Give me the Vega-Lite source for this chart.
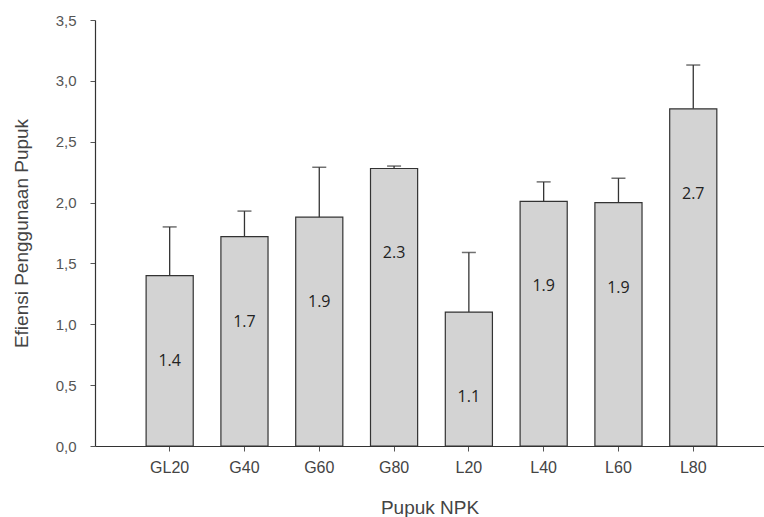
{
  "$schema": "https://vega.github.io/schema/vega-lite/v6.json",
  "autosize": "none",
  "width": 669,
  "height": 426,
  "padding": {"left": 95, "top": 20, "right": 0, "bottom": 71},
  "background": "white",
  "config": {
    "view": {"stroke": null},
    "font": "Liberation Sans"
  },
  "data": {
    "values": [
      {"perlakuan": "GL20", "nilai": 1.40, "atas": 1.80, "label": "1.4"},
      {"perlakuan": "G40", "nilai": 1.72, "atas": 1.93, "label": "1.7"},
      {"perlakuan": "G60", "nilai": 1.88, "atas": 2.29, "label": "1.9"},
      {"perlakuan": "G80", "nilai": 2.28, "atas": 2.30, "label": "2.3"},
      {"perlakuan": "L20", "nilai": 1.10, "atas": 1.59, "label": "1.1"},
      {"perlakuan": "L40", "nilai": 2.01, "atas": 2.17, "label": "1.9"},
      {"perlakuan": "L60", "nilai": 2.00, "atas": 2.20, "label": "1.9"},
      {"perlakuan": "L80", "nilai": 2.77, "atas": 3.13, "label": "2.7"}
    ]
  },
  "encoding": {
    "x": {
      "field": "perlakuan",
      "type": "nominal",
      "sort": null,
      "scale": {"paddingInner": 0.37, "paddingOuter": 0.657, "align": 0.52},
      "axis": {
        "title": "Pupuk NPK",
        "titleFont": "Liberation Sans",
        "titleFontSize": 19,
        "titleFontWeight": "normal",
        "titleColor": "#444",
        "titlePadding": 23,
        "labelAngle": 0,
        "labelFont": "Liberation Sans",
        "labelFontSize": 16,
        "labelColor": "#444",
        "labelPadding": 8,
        "domainColor": "#333",
        "domainWidth": 1.2,
        "tickColor": "#555",
        "tickSize": 5,
        "grid": false
      }
    }
  },
  "layer": [
    {
      "mark": {"type": "rule", "color": "#333", "strokeWidth": 1.3},
      "encoding": {
        "y": {"field": "nilai", "type": "quantitative"},
        "y2": {"field": "atas"}
      }
    },
    {
      "mark": {"type": "tick", "color": "#333", "size": 14, "thickness": 1.5},
      "encoding": {
        "y": {"field": "atas", "type": "quantitative"}
      }
    },
    {
      "mark": {"type": "bar", "fill": "#d3d3d3", "stroke": "#333", "strokeWidth": 1.2},
      "encoding": {
        "y": {
          "field": "nilai",
          "type": "quantitative",
          "scale": {"domain": [0, 3.5], "nice": false},
          "axis": {
            "title": "Efiensi Penggunaan Pupuk",
            "titleFont": "Liberation Sans",
            "titleFontSize": 19,
            "titleFontWeight": "normal",
            "titleColor": "#444",
            "titlePadding": 24,
            "values": [0, 0.5, 1, 1.5, 2, 2.5, 3, 3.5],
            "labelExpr": "replace(format(datum.value, '.1f'), '.', ',')",
            "labelFont": "Liberation Sans",
            "labelFontSize": 15,
            "labelColor": "#555",
            "labelPadding": 14,
            "domainColor": "#333",
            "domainWidth": 1.2,
            "tickColor": "#555",
            "tickSize": 5,
            "grid": false
          }
        }
      }
    },
    {
      "mark": {"type": "text", "font": "Open Sans", "fontSize": 16, "color": "#222", "dy": 85},
      "encoding": {
        "y": {"field": "nilai", "type": "quantitative"},
        "text": {"field": "label"}
      }
    }
  ]
}
